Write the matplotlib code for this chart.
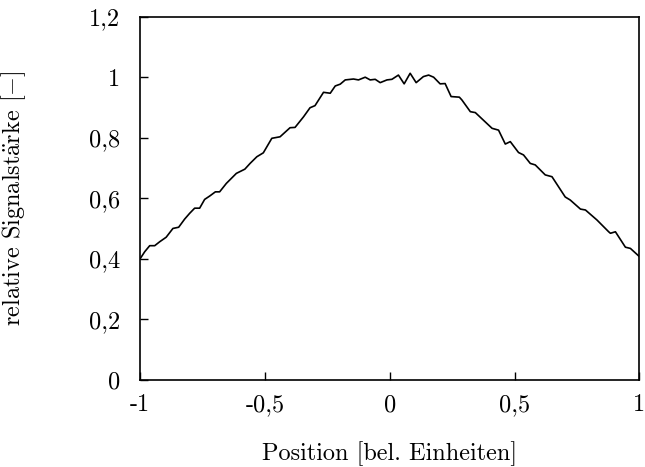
import matplotlib
matplotlib.use("AGG")
import numpy as np
import matplotlib.pyplot as plt

# curve
pos = [-1.0, -0.981, -0.961, -0.941, -0.921, -0.895, -0.868, -0.845, -0.821, -0.801,
       -0.781, -0.761, -0.741, -0.721, -0.698, -0.681, -0.654, -0.614, -0.580, -0.559,
       -0.532, -0.506, -0.472, -0.439, -0.399, -0.379, -0.345, -0.319, -0.299, -0.265,
       -0.238, -0.218, -0.198, -0.178, -0.145, -0.125, -0.098, -0.078, -0.058, -0.038,
       -0.011, 0.009, 0.035, 0.058, 0.082, 0.106, 0.135, 0.156, 0.176, 0.202,
       0.222, 0.246, 0.279, 0.289, 0.323, 0.343, 0.410, 0.436, 0.463, 0.483,
       0.516, 0.536, 0.563, 0.583, 0.623, 0.650, 0.703, 0.723, 0.764, 0.784,
       0.830, 0.877, 0.884, 0.904, 0.944, 0.964, 1.0]
signal = [0.400, 0.424, 0.444, 0.444, 0.457, 0.472, 0.501, 0.505, 0.532, 0.551,
          0.568, 0.568, 0.597, 0.608, 0.622, 0.622, 0.650, 0.683, 0.697, 0.716,
          0.738, 0.751, 0.799, 0.804, 0.834, 0.835, 0.870, 0.900, 0.907, 0.951,
          0.948, 0.972, 0.978, 0.992, 0.995, 0.992, 1.001, 0.992, 0.994, 0.983,
          0.992, 0.994, 1.008, 0.979, 1.014, 0.983, 1.003, 1.008, 1.001, 0.979,
          0.980, 0.937, 0.935, 0.926, 0.887, 0.884, 0.832, 0.826, 0.780, 0.788,
          0.752, 0.744, 0.716, 0.711, 0.678, 0.672, 0.605, 0.595, 0.565, 0.562,
          0.529, 0.490, 0.485, 0.490, 0.439, 0.435, 0.408]

xticks = [-1, -0.5, 0, 0.5, 1]
xlabels = ["-1", "-0,5", "0", "0,5", "1"]
yticks = [0, 0.2, 0.4, 0.6, 0.8, 1.0, 1.2]
ylabels = ["0", "0,2", "0,4", "0,6", "0,8", "1", "1,2"]

plt.rcParams['font.family'] = ['cmr10', 'DejaVu Serif']
plt.rcParams['mathtext.fontset'] = 'cm'
plt.rcParams['font.size'] = 17.5

fig = plt.figure(figsize=(6.45, 4.67), dpi=100)
ax = fig.add_axes([0.217, 0.1863, 0.7743, 0.7773])
ax.plot(pos, signal, color='black', lw=1.2)

ax.set_xlim(-1, 1)
ax.set_ylim(0, 1.2)
ax.set_xticks(xticks)
ax.set_xticklabels(xlabels)
ax.set_yticks(yticks)
ax.set_yticklabels(ylabels)
ax.tick_params(direction='in', length=6, width=1)
ax.tick_params(axis='x', pad=10)
ax.tick_params(axis='y', pad=14)
for s in ax.spines.values():
    s.set_linewidth(1.2)

ax.set_xlabel("Position [bel. Einheiten]")
ax.set_ylabel(r"relative Signalst$\mathrm{\ddot{a}}$rke [$-$]")
ax.xaxis.set_label_coords(0.5, -0.17)
ax.yaxis.set_label_coords(-0.224, 0.5)

fig.savefig('out.png')
